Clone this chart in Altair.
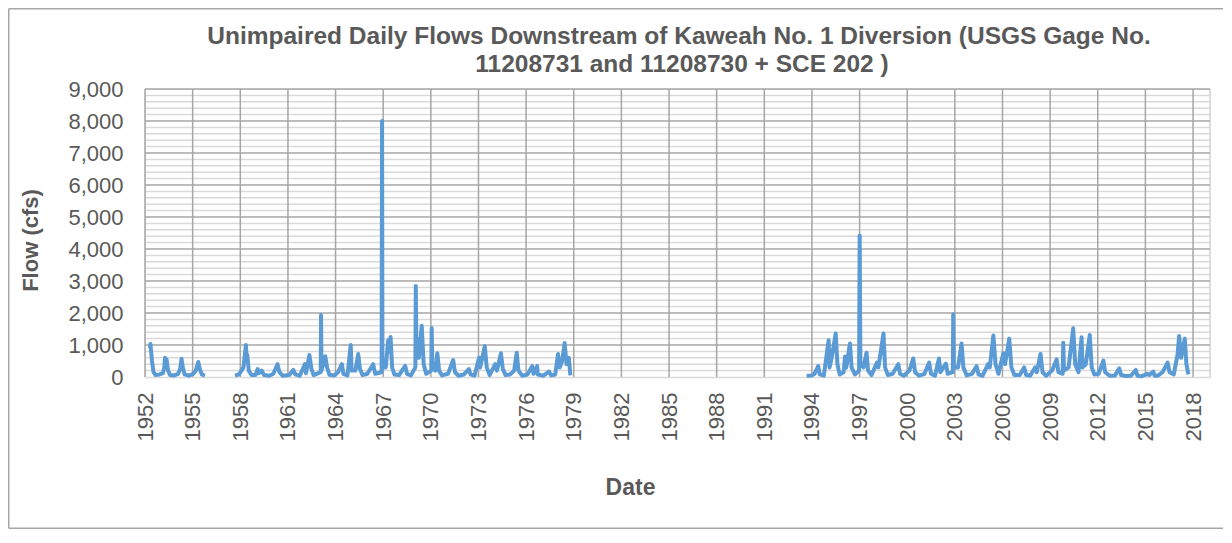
import altair as alt
import pandas as pd

TITLE = ["Unimpaired Daily Flows Downstream of Kaweah No. 1 Diversion (USGS Gage No.",
         "11208731 and 11208730 + SCE 202 )"]

# Segment 1: 1952-1955
seg1_dates = ["1952-04-25", "1952-05-05", "1952-06-10", "1952-07-15", "1952-09-01", "1952-12-01",
              "1953-02-15", "1953-03-20", "1953-04-05", "1953-04-25", "1953-05-10", "1953-06-15",
              "1953-08-01", "1953-11-01", "1954-02-01", "1954-03-20", "1954-04-20", "1954-05-20",
              "1954-07-01", "1954-10-01", "1955-01-15", "1955-03-15", "1955-05-10", "1955-06-15",
              "1955-08-01", "1955-10-10"]
seg1_flow = [900, 1030, 500, 150, 60, 80,
             120, 300, 600, 350, 550, 200,
             60, 50, 100, 250, 570, 300,
             80, 40, 100, 200, 470, 250,
             80, 40]

# Segment 2: 1957-1978
seg2_dates = ["1957-09-01", "1957-12-01", "1958-03-15", "1958-05-10", "1958-05-25", "1958-06-10",
              "1958-07-15", "1958-09-15", "1958-12-15", "1959-02-05", "1959-03-01", "1959-05-10",
              "1959-07-01", "1959-11-01", "1960-02-01", "1960-05-05", "1960-06-20", "1960-09-01",
              "1961-02-01", "1961-05-05", "1961-06-20", "1961-10-01", "1962-01-25", "1962-02-20",
              "1962-05-10", "1962-06-25", "1962-08-15", "1963-01-25", "1963-02-01", "1963-02-12",
              "1963-05-10", "1963-06-20", "1963-08-15", "1963-12-01", "1964-03-01", "1964-05-25",
              "1964-07-01", "1964-10-01", "1964-12-15", "1965-01-05", "1965-04-01", "1965-06-05",
              "1965-07-15", "1965-09-15", "1966-01-01", "1966-05-15", "1966-06-30", "1966-11-25",
              "1966-12-06", "1966-12-15", "1967-03-01", "1967-04-25", "1967-05-20", "1967-06-20",
              "1967-07-25", "1967-09-15", "1968-01-01", "1968-05-20", "1968-07-01", "1968-10-01",
              "1969-01-10", "1969-01-20", "1969-02-05", "1969-02-25", "1969-04-01", "1969-06-05",
              "1969-07-20", "1969-09-15", "1970-01-10", "1970-01-20", "1970-02-05", "1970-04-15",
              "1970-05-30", "1970-07-10", "1970-09-15", "1971-02-01", "1971-05-30", "1971-07-10",
              "1971-10-01", "1972-02-01", "1972-05-25", "1972-07-01", "1972-10-01", "1973-01-15",
              "1973-02-10", "1973-05-25", "1973-07-10", "1973-09-15", "1974-01-20", "1974-03-01",
              "1974-06-01", "1974-07-15", "1974-09-15", "1975-01-01", "1975-04-01", "1975-05-30",
              "1975-07-10", "1975-10-01", "1976-02-01", "1976-05-20", "1976-06-20", "1976-09-12",
              "1976-09-25", "1977-02-01", "1977-06-10", "1977-08-01", "1977-11-01", "1978-01-05",
              "1978-02-15", "1978-04-10", "1978-06-05", "1978-07-20", "1978-09-10", "1978-10-15"]
seg2_flow = [40, 80, 300, 1000, 600, 700,
             200, 60, 60, 250, 120, 200,
             60, 40, 100, 400, 150, 40,
             60, 220, 80, 40, 400, 120,
             690, 250, 60, 150, 1940, 200,
             650, 300, 70, 50, 150, 400,
             100, 50, 1000, 200, 200, 720,
             250, 60, 100, 400, 100, 150,
             8000, 300, 300, 1150, 800, 1250,
             300, 80, 60, 350, 100, 50,
             300, 2840, 600, 1200, 600, 1600,
             400, 100, 200, 1530, 300, 200,
             740, 200, 50, 100, 530, 150,
             40, 80, 250, 80, 40, 600,
             300, 960, 300, 60, 400, 200,
             740, 250, 60, 80, 200, 760,
             200, 40, 80, 340, 100, 340,
             80, 40, 170, 50, 80, 720,
             300, 500, 1060, 400, 600, 50]

# Segment 3: 1993-2017
seg3_dates = ["1993-09-01", "1994-01-01", "1994-03-01", "1994-05-25", "1994-07-01", "1994-10-01",
              "1995-01-20", "1995-02-10", "1995-04-01", "1995-07-01", "1995-08-10", "1995-10-01",
              "1996-01-01", "1996-02-01", "1996-03-01", "1996-05-25", "1996-07-01", "1996-09-15",
              "1996-12-20", "1997-01-03", "1997-01-20", "1997-04-01", "1997-06-10", "1997-07-15",
              "1997-10-01", "1998-02-05", "1998-03-10", "1998-07-05", "1998-08-10", "1998-10-15",
              "1999-02-01", "1999-06-10", "1999-07-20", "1999-10-15", "2000-02-20", "2000-05-20",
              "2000-07-01", "2000-10-01", "2001-02-01", "2001-05-20", "2001-07-01", "2001-10-01",
              "2002-01-01", "2002-02-01", "2002-06-10", "2002-07-20", "2002-11-15", "2002-11-25",
              "2002-12-10", "2003-03-15", "2003-06-05", "2003-07-15", "2003-10-01", "2004-02-01",
              "2004-05-15", "2004-06-30", "2004-10-01", "2005-02-05", "2005-03-15", "2005-06-05",
              "2005-07-25", "2005-10-01", "2006-01-20", "2006-03-01", "2006-06-05", "2006-07-25",
              "2006-10-01", "2007-02-01", "2007-05-15", "2007-06-30", "2007-10-01", "2008-01-20",
              "2008-03-01", "2008-05-25", "2008-07-10", "2008-10-01", "2009-02-15", "2009-05-30",
              "2009-07-10", "2009-10-15", "2009-10-30", "2009-11-15", "2010-03-01", "2010-06-15",
              "2010-08-01", "2010-10-15", "2010-12-25", "2011-01-15", "2011-04-01", "2011-07-01",
              "2011-08-15", "2011-10-15", "2012-01-20", "2012-05-10", "2012-06-20", "2012-10-01",
              "2013-02-01", "2013-05-10", "2013-06-20", "2013-10-01", "2014-02-01", "2014-05-25",
              "2014-07-01", "2014-10-01", "2015-02-10", "2015-04-01", "2015-07-01", "2015-08-01",
              "2015-10-15", "2016-02-01", "2016-05-25", "2016-07-10", "2016-10-15", "2017-01-10",
              "2017-02-15", "2017-04-01", "2017-06-25", "2017-08-01", "2017-09-15"]
seg3_flow = [40, 50, 100, 340, 80, 40,
             1150, 300, 600, 1360, 400, 80,
             150, 640, 300, 1050, 300, 80,
             200, 4420, 400, 300, 760, 200,
             60, 450, 300, 1360, 300, 60,
             100, 400, 100, 40, 200, 580,
             150, 40, 100, 450, 100, 40,
             580, 150, 420, 100, 150, 1960,
             300, 300, 1050, 300, 50, 100,
             340, 80, 40, 400, 300, 1300,
             400, 100, 740, 400, 1200, 300,
             60, 60, 300, 60, 40, 300,
             150, 720, 150, 40, 200, 550,
             150, 100, 1070, 200, 300, 1520,
             400, 150, 1240, 300, 400, 1310,
             300, 80, 100, 510, 150, 40,
             50, 270, 60, 30, 40, 220,
             40, 20, 100, 60, 170, 40,
             40, 150, 450, 150, 80, 700,
             1280, 600, 1200, 400, 80]

y_major = list(range(1000, 9001, 1000))
y_minor = [v for v in range(200, 9000, 200) if v % 1000]
x_years = list(range(1952, 2019, 3))

rows = []
for seg, (ds, vs) in enumerate([(seg1_dates, seg1_flow), (seg2_dates, seg2_flow), (seg3_dates, seg3_flow)]):
    for d, v in zip(ds, vs):
        rows.append({"date": d, "flow": v, "seg": seg})
df = pd.DataFrame(rows)

TXT = "#595959"
FONT = "Liberation Sans"
W, H = 1065, 288
PAD_L, PAD_T = 137, 81
TOTAL_W, TOTAL_H = 1216, 521
FRAME = "#A6A6A6"

xscale = alt.Scale(type="utc", domain=[alt.DateTime(year=1952, month=1, date=1, utc=True),
                                       alt.DateTime(year=2019, month=1, date=26, utc=True)])
yscale = alt.Scale(domain=[0, 9000], nice=False)

xaxis = alt.Axis(values=[alt.DateTime(year=y, month=1, date=1, utc=True) for y in x_years],
                 format="%Y", formatType="utc", labelAngle=270, labelFontSize=22, labelColor=TXT,
                 labelFont=FONT, labelPadding=15, labelOverlap=False, labelFlush=False, labelBound=False,
                 ticks=False, grid=False, domainColor="#D9D9D9", domainWidth=1.5,
                 title="Date", titleFont=FONT, titleFontSize=23, titleFontWeight="bold", titleColor=TXT,
                 titleX=485, titleY=110, titleBaseline="middle")
yaxis = alt.Axis(values=list(range(0, 9001, 1000)), format=",.0f", labelFontSize=22, labelColor=TXT,
                 labelFont=FONT, labelPadding=22, labelOverlap=False, ticks=False, domain=False, grid=False,
                 title="Flow (cfs)", titleFont=FONT, titleFontSize=22, titleFontWeight="bold",
                 titleColor=TXT, titleX=-115, titleY=151, titleBaseline="middle")

one = pd.DataFrame({"a": [0]})
RIGHT = TOTAL_W - PAD_L - 1
frame_left = alt.Chart(one).mark_rule(color=FRAME, strokeWidth=1.5).encode(
    x=alt.value(-PAD_L + 0.75), y=alt.value(-PAD_T + 0.75), y2=alt.value(TOTAL_H - PAD_T - 0.75))
frame_top = alt.Chart(one).mark_rule(color=FRAME, strokeWidth=1.5).encode(
    x=alt.value(-PAD_L + 0.75), x2=alt.value(RIGHT), y=alt.value(-PAD_T + 0.75))
frame_bottom = alt.Chart(one).mark_rule(color=FRAME, strokeWidth=1.5).encode(
    x=alt.value(-PAD_L + 0.75), x2=alt.value(RIGHT), y=alt.value(TOTAL_H - PAD_T - 0.75))
plot_right = alt.Chart(one).mark_rule(color="#D9D9D9", strokeWidth=1.5).encode(
    x=alt.value(W), y=alt.value(0), y2=alt.value(H))

title_df = pd.DataFrame({"t": TITLE, "line": [0, 1]})
title1 = alt.Chart(title_df[title_df.line == 0]).mark_text(
    font=FONT, fontSize=24.5, fontWeight="bold", color=TXT, align="center", baseline="middle"
).encode(x=alt.value(679 - 145), y=alt.value(37 - 89), text="t:N")
title2 = alt.Chart(title_df[title_df.line == 1]).mark_text(
    font=FONT, fontSize=24.5, fontWeight="bold", color=TXT, align="center", baseline="middle"
).encode(x=alt.value(682 - 145), y=alt.value(65 - 89), text="t:N")

minor = alt.Chart(pd.DataFrame({"v": y_minor})).mark_rule(color="#D9D9D9", strokeWidth=1.5).encode(
    y=alt.Y("v:Q", scale=yscale, axis=yaxis)
)
major_h = alt.Chart(pd.DataFrame({"v": y_major})).mark_rule(color="#A6A6A6", strokeWidth=1.5).encode(
    y=alt.Y("v:Q", scale=yscale, axis=yaxis)
)
major_v = alt.Chart(pd.DataFrame({"d": [f"{y}-01-01" for y in x_years]})).mark_rule(
    color="#A6A6A6", strokeWidth=1.5).encode(
    x=alt.X("d:T", scale=xscale, axis=xaxis)
)
line = alt.Chart(df).mark_line(color="#5B9BD5", strokeWidth=4, strokeJoin="round").encode(
    x=alt.X("date:T", scale=xscale, axis=xaxis),
    y=alt.Y("flow:Q", scale=yscale, axis=yaxis),
    detail="seg:N"
)

chart = alt.layer(frame_left, frame_top, frame_bottom, title1, title2, minor, plot_right,
                  major_h, major_v, line).properties(
    width=W, height=H,
    autosize=alt.AutoSizeParams(type="none"),
    padding={"left": PAD_L, "top": PAD_T, "right": TOTAL_W - PAD_L - W, "bottom": TOTAL_H - PAD_T - H},
).configure_view(strokeWidth=0).configure(background="white")

chart.save("out.html", embed_options={"renderer": "svg", "actions": False})
